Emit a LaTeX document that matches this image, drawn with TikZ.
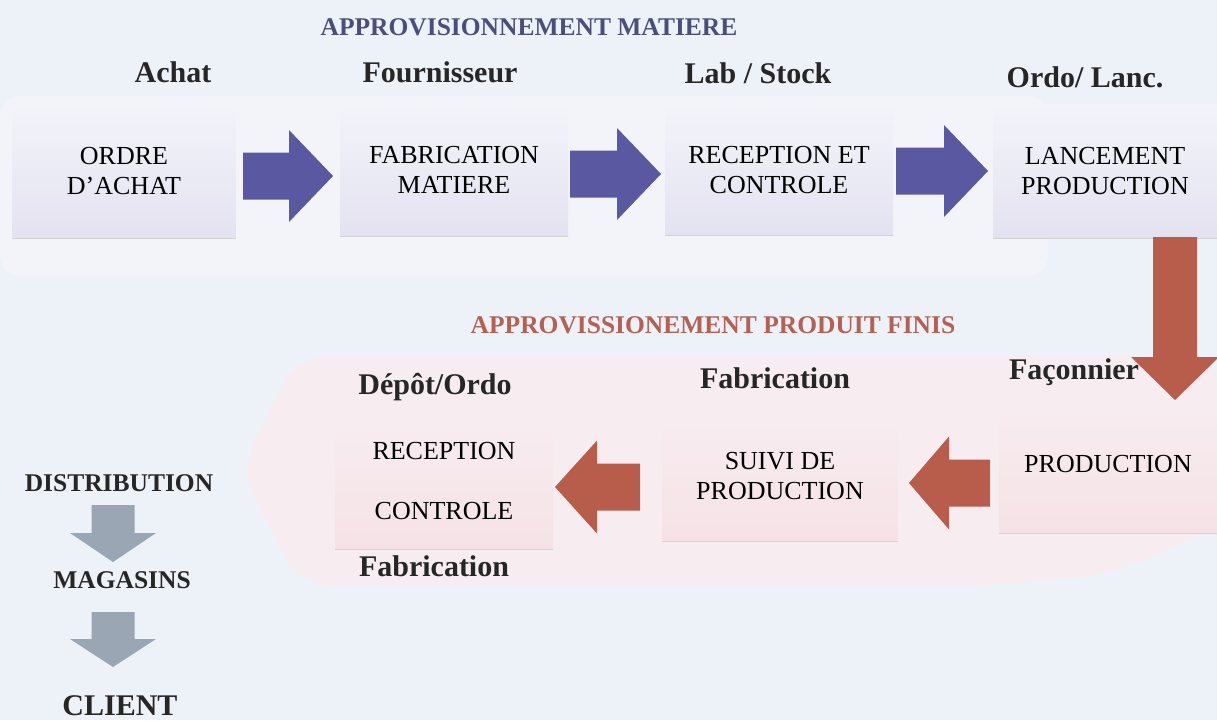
\documentclass[tikz,border=0pt]{standalone}
\usepackage{fontspec}
\setmainfont{Liberation Serif}
\usetikzlibrary{calc}
\definecolor{fond}{RGB}{237,241,248}
\definecolor{bandeA}{RGB}{242,244,250}
\definecolor{bandeB}{RGB}{247,237,241}
\definecolor{bleu}{RGB}{90,88,160}
\definecolor{rouge}{RGB}{184,92,76}
\definecolor{gris}{RGB}{154,166,180}
\definecolor{titreA}{RGB}{75,78,122}
\definecolor{titreB}{RGB}{180,96,82}
% block arrow: tail, tip, half shaft, half head, head length, colour
\newcommand{\fleche}[6]{%
	\coordinate (fb) at ($(#2)!#5!(#1)$);
	\fill[#6] ($(#1)!#3!90:(#2)$) -- ($(fb)!#3!90:(#2)$) -- ($(fb)!#4!90:(#2)$) -- (#2)
		-- ($(fb)!#4!-90:(#2)$) -- ($(fb)!#3!-90:(#2)$) -- ($(#1)!#3!-90:(#2)$) -- cycle;
}
\begin{document}
\begin{tikzpicture}[x=1pt, y=-1pt,
	boxA/.style={rectangle, top color=bandeA, bottom color={rgb,255:red,228;green,226;blue,240}, align=center, font=\fontsize{26}{30}\selectfont},
	boxB/.style={rectangle, top color=bandeB, bottom color={rgb,255:red,246;green,226;blue,230}, align=center, font=\fontsize{26}{30}\selectfont},
	head/.style={font=\fontsize{30}{34}\selectfont\bfseries, text=black!85},
	titre/.style={font=\fontsize{25.5}{30}\selectfont\bfseries}]
	\useasboundingbox (0, 0) rectangle (1217, 720);
	\fill[fond] (0, 0) rectangle (1217, 720);
	% Background bands
	\fill[bandeA, rounded corners=20] (0, 96) rectangle (1048, 276);
	\fill[bandeB, rounded corners=30] (240, 470) -- (298, 355) -- (1217, 355) -- (1217, 528)
		.. controls (1110, 575) .. (1000, 585) -- (298, 585) -- cycle;
	% Titles
	\node[titre, text=titreA] (titre-1) at (529, 27) {APPROVISIONNEMENT MATIERE};
	\node[titre, text=titreB] (titre-2) at (713, 325) {APPROVISSIONEMENT PRODUIT FINIS};
	% First row
	\node[boxA, minimum width=223, minimum height=133] (box-1-1) at (124, 171) {ORDRE\\D’ACHAT};
	\node[boxA, minimum width=228, minimum height=131] (box-1-2) at (454, 170) {FABRICATION\\MATIERE};
	\node[boxA, minimum width=228, minimum height=130] (box-1-3) at (779, 170) {RECEPTION ET\\CONTROLE};
	\node[boxA, minimum width=224, minimum height=133] (box-1-4) at (1105, 171) {LANCEMENT\\PRODUCTION};
	\foreach \a in {1, 2, 3, 4}
		\draw[gray!35] (box-1-\a.south west) -- (box-1-\a.south east);
	\node[head] (head-1-1) at (173, 72) {Achat};
	\node[head] (head-1-2) at (440, 72) {Fournisseur};
	\node[head] (head-1-3) at (758, 73) {Lab / Stock};
	\node[head] (head-1-4) at (1085, 77) {Ordo/ Lanc.};
	% Second row
	\node[boxB, minimum width=218, minimum height=135] (box-2-1) at (444, 481) {RECEPTION\\[30pt]CONTROLE};
	\node[boxB, minimum width=235, minimum height=130] (box-2-2) at (780, 476) {SUIVI DE\\PRODUCTION};
	\node[boxB, minimum width=217, minimum height=137] (box-2-3) at (1108, 464) {PRODUCTION};
	\foreach \a in {1, 2, 3}
		\draw[gray!35] (box-2-\a.south west) -- (box-2-\a.south east);
	\node[head] (head-2-1) at (435, 387) {Dépôt/Ordo};
	\node[head] (head-2-2) at (775, 378) {Fabrication};
	\node[head] (head-2-3) at (1074, 372) {Façonnier};
	\node[head] (head-2-4) at (434, 566) {Fabrication};
	% Distribution column
	\node[head, font=\fontsize{25.5}{30}\selectfont\bfseries] (dist-1) at (119, 483) {DISTRIBUTION};
	\node[head, font=\fontsize{25.5}{30}\selectfont\bfseries] (dist-2) at (122, 580) {MAGASINS};
	\node[head] (dist-3) at (120, 706) {CLIENT};
	% Arrow ends
	\coordinate (a1) at (243, 176); \coordinate (b1) at (333, 176);
	\coordinate (a2) at (570, 174); \coordinate (b2) at (661, 174);
	\coordinate (a3) at (896, 171); \coordinate (b3) at (988, 171);
	\coordinate (a4) at (1175, 237); \coordinate (b4) at (1175, 400);
	\coordinate (a5) at (990, 483); \coordinate (b5) at (909, 483);
	\coordinate (a6) at (640, 487); \coordinate (b6) at (555, 487);
	\coordinate (a7) at (113, 505); \coordinate (b7) at (113, 562);
	\coordinate (a8) at (113, 612); \coordinate (b8) at (113, 667);
	% Arrows
	\foreach \a in {1, 2, 3}
		{\fleche{a\a}{b\a}{23.5pt}{46pt}{44pt}{bleu}}
	\fleche{a4}{b4}{22pt}{44pt}{43pt}{rouge}
	\fleche{a5}{b5}{23.5pt}{46.5pt}{40pt}{rouge}
	\fleche{a6}{b6}{23.5pt}{46.5pt}{42pt}{rouge}
	\fleche{a7}{b7}{21.5pt}{43pt}{29pt}{gris}
	\fleche{a8}{b8}{21.5pt}{43pt}{28pt}{gris}
\end{tikzpicture}
\end{document}
